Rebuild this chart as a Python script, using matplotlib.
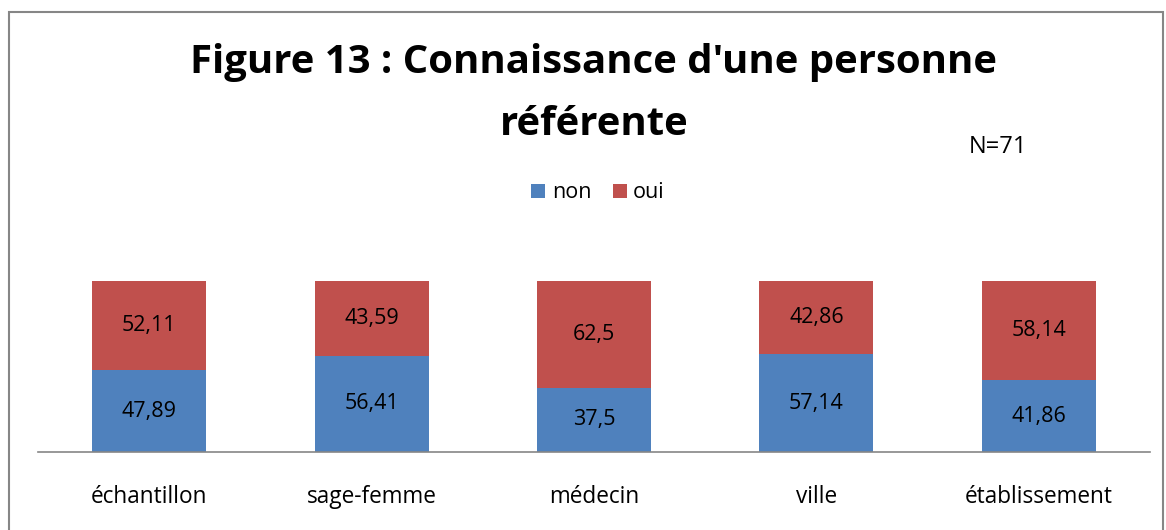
import matplotlib
matplotlib.use("Agg")
import matplotlib.pyplot as plt
from matplotlib.patches import Rectangle

categories = ["échantillon", "sage-femme", "médecin", "ville", "établissement"]
non_values = [47.89, 56.41, 37.5, 57.14, 41.86]
oui_values = [52.11, 43.59, 62.5, 42.86, 58.14]
non_labels = ["47,89", "56,41", "37,5", "57,14", "41,86"]
oui_labels = ["52,11", "43,59", "62,5", "42,86", "58,14"]

plt.rcParams['font.family'] = ['Open Sans', 'DejaVu Sans']

W, H = 1166, 530
fig = plt.figure(figsize=(W / 100, H / 100), dpi=100)

# outer frame
fig.patches.append(Rectangle((9 / W, -0.05), (1163 - 9) / W, 1.05 - 12 / H,
                             transform=fig.transFigure, fill=False,
                             edgecolor="#868686", linewidth=1.5))

ax = fig.add_axes([38 / W, 78 / H, 1112 / W, 171 / H])
blue = "#4F81BD"
red = "#C0504D"
x = range(len(categories))
b1 = ax.bar(x, non_values, width=0.513, color=blue, label="non")
b2 = ax.bar(x, oui_values, width=0.513, bottom=non_values, color=red, label="oui")
for i in x:
    ax.text(i, non_values[i] / 2, non_labels[i], ha="center", va="center", fontsize=15.5)
    ax.text(i, non_values[i] + oui_values[i] / 2, oui_labels[i], ha="center", va="center", fontsize=15.5)

ax.set_xlim(-0.5, len(categories) - 0.5)
ax.set_ylim(0, 100)
ax.set_yticks([])
ax.set_xticks(list(x))
ax.set_xticklabels(categories, fontsize=16.3)
ax.tick_params(axis="x", length=0, pad=24)
for s in ["top", "right", "left"]:
    ax.spines[s].set_visible(False)
ax.spines["bottom"].set_color("#868686")
ax.spines["bottom"].set_linewidth(1.2)

fig.text(593 / W, 1 - 73 / H, "Figure 13 : Connaissance d'une personne",
         ha="center", va="baseline", fontsize=28.9, fontweight="bold")
fig.text(594 / W, 1 - 135 / H, "référente",
         ha="center", va="baseline", fontsize=28.9, fontweight="bold")
fig.text(998 / W, 1 - 153 / H, "N=71", ha="center", va="baseline", fontsize=17)

leg = fig.legend(handles=[b1, b2], labels=["non", "oui"], loc="center",
                 bbox_to_anchor=(598 / W, 1 - 193 / H), ncol=2, frameon=False,
                 fontsize=15.5, handlelength=0.65, handleheight=0.65,
                 handletextpad=0.3, columnspacing=1.0)

fig.savefig("out.png", dpi=100)
